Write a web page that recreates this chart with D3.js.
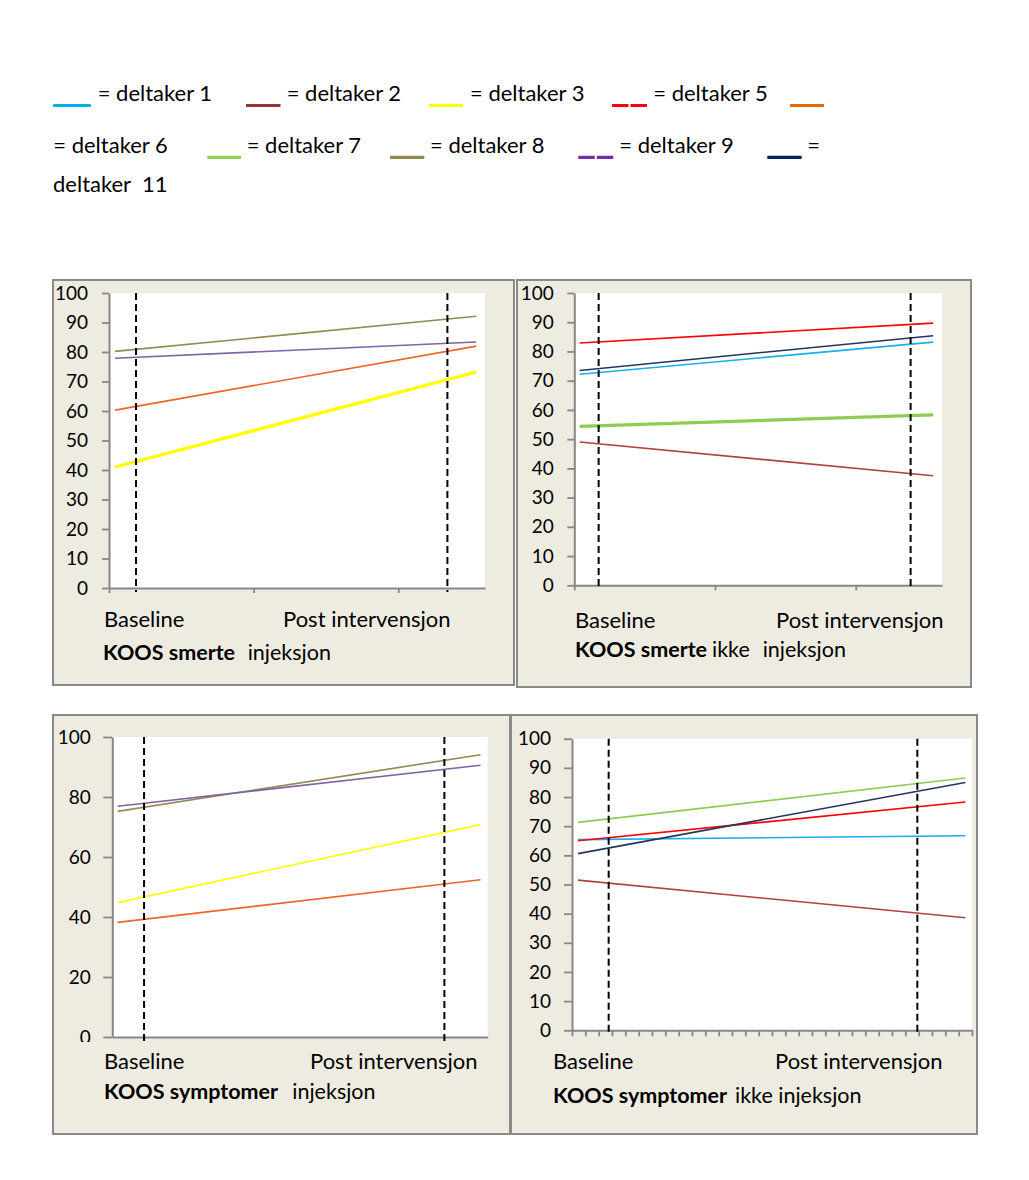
<!DOCTYPE html>
<html><head><meta charset="utf-8">
<script src="https://cdn.jsdelivr.net/npm/d3@7"></script>
<style>
body{margin:0;background:#fff}
svg{display:block}
text{font-family:Lato,"Open Sans",sans-serif;fill:#000}
</style>
</head><body>
<svg id="chart" width="1029" height="1180"></svg>
<script>
// ---------- DATA ----------
const participants = ["deltaker 1","deltaker 2","deltaker 3","deltaker 5","deltaker 6","deltaker 7","deltaker 8","deltaker 9","deltaker 11"];
const timepoints = ["Baseline","Post intervensjon"];

// KOOS smerte – injeksjon
const smerteInjParticipants = ["deltaker 8","deltaker 9","deltaker 6","deltaker 3"];
const smerteInjBaseline = [80.2, 77.9, 60.3, 41.0];
const smerteInjPost     = [92.1, 83.4, 82.0, 73.2];

// KOOS smerte – ikke injeksjon
const smerteIkkeParticipants = ["deltaker 2","deltaker 7","deltaker 1","deltaker 11","deltaker 5"];
const smerteIkkeBaseline = [49.0, 54.4, 72.2, 73.5, 82.9];
const smerteIkkePost     = [37.5, 58.3, 83.2, 85.4, 89.7];

// KOOS symptomer – injeksjon
const sympInjParticipants = ["deltaker 6","deltaker 3","deltaker 8","deltaker 9"];
const sympInjBaseline = [38.2, 44.8, 75.2, 76.9];
const sympInjPost     = [52.4, 70.8, 94.1, 90.6];

// KOOS symptomer – ikke injeksjon
const sympIkkeParticipants = ["deltaker 2","deltaker 1","deltaker 5","deltaker 11","deltaker 7"];
const sympIkkeBaseline = [51.5, 65.4, 65.0, 60.6, 71.3];
const sympIkkePost     = [38.6, 66.7, 78.3, 85.0, 86.5];

const yTicks10 = [0,10,20,30,40,50,60,70,80,90,100];
const yTicks20 = [0,20,40,60,80,100];

const titleSmerteInj  = ["KOOS smerte","injeksjon"];
const titleSmerteIkke = ["KOOS smerte","ikke","injeksjon"];
const titleSympInj    = ["KOOS symptomer","injeksjon"];
const titleSympIkke   = ["KOOS symptomer","ikke injeksjon"];

// ---------- STYLES ----------
const legendColor = {
  "deltaker 1":"#00B0F0","deltaker 2":"#943634","deltaker 3":"#FFFF00","deltaker 5":"#FF0000",
  "deltaker 6":"#E36C09","deltaker 7":"#92D050","deltaker 8":"#948A54","deltaker 9":"#7030A0","deltaker 11":"#002060"
};
const lineColor = {
  "deltaker 1":"#1AAEEB","deltaker 2":"#B0423F","deltaker 3":"#FFFF00","deltaker 5":"#FF0000",
  "deltaker 6":"#F0642A","deltaker 7":"#8FCC52","deltaker 8":"#948A54","deltaker 9":"#8064A2","deltaker 11":"#23355F"
};
const dashedLegend = {"deltaker 5":true,"deltaker 9":true};
const axisColor = "#878787";
const panelBg = "#EEECE1";
const borderColor = "#8A8A8A";

// ---------- LAYOUT ----------
const panels = [
  { box:[53,280,461,405], plot:{l:109,r:485,t:293,b:588}, xMax:2.6, xTicks:[0,1,2], timeX:[0.042,2.54], dashX:[0.187,2.34],
    yTicks:yTicks10, yTickLen:7, yPad:14, xTickLen:5, thick:"deltaker 3",
    names:smerteInjParticipants, base:smerteInjBaseline, post:smerteInjPost,
    catX:[104,283], catY:627, title:titleSmerteInj, titleX:[103,247.7], titleY:660 },
  { box:[517,280,454,407], plot:{l:574.3,r:942,t:293,b:585.3}, xMax:2.613, xTicks:[0,1,2], timeX:[0.038,2.55], dashX:[0.173,2.39],
    yTicks:yTicks10, yTickLen:7, yPad:13.5, xTickLen:5, thick:"deltaker 7",
    names:smerteIkkeParticipants, base:smerteIkkeBaseline, post:smerteIkkePost,
    catX:[575,776], catY:628, title:titleSmerteIkke, titleX:[575,712,762.7], titleY:657 },
  { box:[53,715,457,419], plot:{l:112.3,r:487.7,t:737,b:1037}, xMax:2.6, xTicks:[], timeX:[0.037,2.55], dashX:[0.22,2.30],
    yTicks:yTicks20, yTickLen:9, yPad:12.5, xTickLen:0, thick:null, clipY:1042,
    names:sympInjParticipants, base:sympInjBaseline, post:sympInjPost,
    catX:[104,310], catY:1069, title:titleSympInj, titleX:[104,292.3], titleY:1099 },
  { box:[511,715,466,419], plot:{l:572,r:972,t:738.7,b:1030.3}, xMax:30, xTicks:d3.range(0,31), timeX:[0.45,29.5], dashX:[2.75,25.9],
    yTicks:yTicks10, yTickLen:8, yPad:13, xTickLen:6, thick:null,
    names:sympIkkeParticipants, base:sympIkkeBaseline, post:sympIkkePost,
    catX:[553,775], catY:1069, title:titleSympIkke, titleX:[553,735], titleY:1103 }
];

const legendRows = [
  { swatchY:105.5, textY:100.7, items:[
    {name:"deltaker 1", sx:[53,91], tx:97.7, text:"= deltaker 1"},
    {name:"deltaker 2", sx:[246,280.5], tx:286.7, text:"= deltaker 2"},
    {name:"deltaker 3", sx:[429,463], tx:470, text:"= deltaker 3"},
    {name:"deltaker 5", sx:[612,647], tx:653.3, text:"= deltaker 5"},
    {name:"deltaker 6", sx:[790,824], tx:null, text:null}
  ]},
  { swatchY:157.3, textY:152.7, items:[
    {name:null, sx:null, tx:53.3, text:"= deltaker 6"},
    {name:"deltaker 7", sx:[207.3,241], tx:246.7, text:"= deltaker 7"},
    {name:"deltaker 8", sx:[390,424.3], tx:430, text:"= deltaker 8"},
    {name:"deltaker 9", sx:[578.3,613.3], tx:619.3, text:"= deltaker 9"},
    {name:"deltaker 11", sx:[767.3,801.7], tx:807.3, text:"="}
  ]},
  { swatchY:null, textY:191.5, items:[
    {name:null, sx:null, tx:53, text:"deltaker\u00A0\u00A011"}
  ]}
];

// ---------- DRAW ----------
const svg = d3.select("#chart");
svg.append("rect").attr("width",1029).attr("height",1180).attr("fill","#fff");

// legend
const lg = svg.append("g").attr("class","legend");
legendRows.forEach(row => {
  row.items.forEach(it => {
    if (it.sx) {
      lg.append("line")
        .attr("x1",it.sx[0]).attr("x2",it.sx[1]).attr("y1",row.swatchY).attr("y2",row.swatchY)
        .attr("stroke",legendColor[it.name]).attr("stroke-width",3.2)
        .attr("stroke-dasharray", dashedLegend[it.name] ? "16.5,2" : null);
    }
    if (it.text) {
      lg.append("text").attr("x",it.tx).attr("y",row.textY)
        .attr("font-size",22).text(it.text);
    }
  });
});

const defs = svg.append("defs");

panels.forEach((p,i) => {
  const g = svg.append("g").attr("class","panel");
  // background + border
  g.append("rect").attr("x",p.box[0]).attr("y",p.box[1]).attr("width",p.box[2]).attr("height",p.box[3])
    .attr("fill",panelBg).attr("stroke",borderColor).attr("stroke-width",2);
  // plot area
  g.append("rect").attr("x",p.plot.l).attr("y",p.plot.t).attr("width",p.plot.r-p.plot.l).attr("height",p.plot.b-p.plot.t)
    .attr("fill","#fff");

  const x = d3.scaleLinear().domain([0,p.xMax]).range([p.plot.l,p.plot.r]);
  const y = d3.scaleLinear().domain([0,100]).range([p.plot.b,p.plot.t]);
  const xt = d3.scaleLinear().domain([0,1]).range(p.timeX); // timepoint index -> x units

  // y axis (wrapped so an optional clip works in page coordinates)
  const yWrap = g.append("g");
  if (p.clipY) {
    const cid = "clip"+i;
    defs.append("clipPath").attr("id",cid).append("rect").attr("x",0).attr("y",0).attr("width",1029).attr("height",p.clipY);
    yWrap.attr("clip-path",`url(#${cid})`);
  }
  const yAxis = d3.axisLeft(y).tickValues(p.yTicks).tickSize(p.yTickLen).tickSizeOuter(0).tickPadding(p.yPad);
  const ya = yWrap.append("g").attr("transform",`translate(${p.plot.l},0)`).call(yAxis);
  ya.select(".domain").attr("stroke",axisColor).attr("stroke-width",2);
  ya.selectAll(".tick line").attr("stroke",axisColor).attr("stroke-width",1.8);
  ya.selectAll(".tick text").attr("font-size",19).attr("font-family","Lato").attr("fill","#000");

  // x axis
  const xAxis = d3.axisBottom(x).tickValues(p.xTicks).tickSize(p.xTickLen).tickSizeOuter(0).tickFormat("");
  const xa = g.append("g").attr("transform",`translate(0,${p.plot.b})`).call(xAxis);
  xa.select(".domain").attr("stroke",axisColor).attr("stroke-width",2);
  xa.selectAll(".tick line").attr("stroke",axisColor).attr("stroke-width",1.8);

  // series lines
  const lineGen = d3.line().x(d => x(xt(d.t))).y(d => y(d.v));
  p.names.forEach((name,k) => {
    const pts = [{t:0,v:p.base[k]},{t:1,v:p.post[k]}];
    g.append("path").attr("d",lineGen(pts)).attr("fill","none")
      .attr("stroke",lineColor[name]).attr("stroke-width", name===p.thick ? 3.2 : 1.6);
  });

  // dashed reference lines
  p.dashX.forEach(dx => {
    g.append("line").attr("x1",x(dx)).attr("x2",x(dx)).attr("y1",p.plot.t).attr("y2",p.plot.b+4)
      .attr("stroke","#000").attr("stroke-width",2).attr("stroke-dasharray","7,4");
  });

  // category labels
  timepoints.forEach((tp,k) => {
    g.append("text").attr("x",p.catX[k]).attr("y",p.catY).attr("font-size",22).text(tp);
  });
  // title
  p.title.forEach((t,k) => {
    g.append("text").attr("x",p.titleX[k]).attr("y",p.titleY).attr("font-size",21.5)
      .attr("font-weight", k===0 ? "bold" : "normal").text(t);
  });
});
</script>
</body></html>
